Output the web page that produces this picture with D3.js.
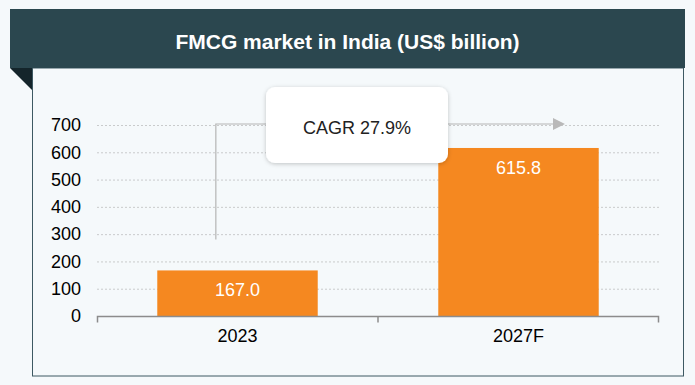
<!DOCTYPE html>
<html>
<head>
<meta charset="utf-8">
<script src="https://cdn.jsdelivr.net/npm/d3@7"></script>
<style>
  body { margin: 0; background: #f5f9fb; }
  svg { display: block; font-family: "Liberation Sans", Arial, sans-serif; }
</style>
</head>
<body>
<div id="chart"></div>
<script>
// data
var categories = ["2023", "2027F"];
var values = [167.0, 615.8];
var yTicks = [0, 100, 200, 300, 400, 500, 600, 700];
var titleText = "FMCG market in India (US$ billion)";
var cagrText = "CAGR 27.9%";

var width = 695, height = 385;

var svg = d3.select("#chart").append("svg")
    .attr("width", width)
    .attr("height", height);

// schaduw voor het cagr label
var defs = svg.append("defs");
defs.append("filter")
    .attr("id", "shadow")
    .attr("x", "-10%").attr("y", "-10%")
    .attr("width", "120%").attr("height", "130%")
  .append("feDropShadow")
    .attr("dx", 0).attr("dy", 1)
    .attr("stdDeviation", 2)
    .attr("flood-color", "#000")
    .attr("flood-opacity", 0.22);

// kader en kop
svg.append("rect")
    .attr("x", 32.5).attr("y", 68)
    .attr("width", 651).attr("height", 308)
    .attr("fill", "#f5f9fb")
    .attr("stroke", "#3d5962")
    .attr("stroke-width", 1);

svg.append("rect")
    .attr("x", 10).attr("y", 9)
    .attr("width", 675).attr("height", 59)
    .attr("fill", "#2b474f");

svg.append("path")
    .attr("d", "M10,68 L32,68 L32,90 Z")
    .attr("fill", "#14252b");

svg.append("text")
    .attr("x", 347.5).attr("y", 41)
    .attr("text-anchor", "middle")
    .attr("dominant-baseline", "central")
    .attr("fill", "#fff")
    .attr("font-weight", "bold")
    .attr("font-size", "21px")
    .text(titleText);

// schalen
var x = d3.scaleBand()
    .domain(categories)
    .range([97, 659])
    .paddingInner(0.429)
    .paddingOuter(0.2145);

var y = d3.scaleLinear()
    .domain([0, 700])
    .range([316, 125]);

// gridlijnen
svg.append("g")
    .selectAll("line")
    .data(yTicks.filter(function(d) { return d > 0; }))
    .enter().append("line")
    .attr("x1", 97).attr("x2", 659)
    .attr("y1", function(d) { return y(d) + 0.5; })
    .attr("y2", function(d) { return y(d) + 0.5; })
    .attr("stroke", "#c9cbcc")
    .attr("stroke-width", 1)
    .attr("stroke-dasharray", "2,2");

// y as labels
var yAxis = svg.append("g")
    .attr("transform", "translate(81,0)")
    .call(d3.axisLeft(y).tickValues(yTicks).tickSize(0).tickPadding(0));
yAxis.select(".domain").remove();
yAxis.selectAll("text")
    .attr("font-size", "18px")
    .attr("font-family", "Liberation Sans, Arial, sans-serif")
    .attr("fill", "#000");

// staven
svg.append("g")
    .selectAll("rect")
    .data(values)
    .enter().append("rect")
    .attr("x", function(d, i) { return x(categories[i]); })
    .attr("width", x.bandwidth())
    .attr("y", function(d) { return y(d); })
    .attr("height", function(d) { return y(0) - y(d); })
    .attr("fill", "#f58820");

svg.append("g")
    .selectAll("text")
    .data(values)
    .enter().append("text")
    .attr("x", function(d, i) { return x(categories[i]) + x.bandwidth() / 2; })
    .attr("y", function(d) { return y(d) + 20; })
    .attr("text-anchor", "middle")
    .attr("dominant-baseline", "central")
    .attr("fill", "#fff")
    .attr("font-size", "18px")
    .text(function(d) { return d.toFixed(1); });

// x as
var xAxis = svg.append("g")
    .attr("transform", "translate(0," + (y(0) + 0.5) + ")")
    .call(d3.axisBottom(x).tickSize(0).tickPadding(13));
xAxis.select(".domain")
    .attr("d", "M97.5,6V0H658.5V6")
    .attr("stroke", "#8c8c8c")
    .attr("stroke-width", 1.5);
xAxis.append("line")
    .attr("x1", 378).attr("x2", 378)
    .attr("y1", 0).attr("y2", 6)
    .attr("stroke", "#8c8c8c")
    .attr("stroke-width", 1.5);
xAxis.selectAll("text")
    .attr("font-size", "18px")
    .attr("font-family", "Liberation Sans, Arial, sans-serif")
    .attr("fill", "#000");

// cagr pijl
var ax = x(categories[0]) + x.bandwidth() * 0.365;
var ay = y(700) - 1;
var tipX = x(categories[1]) + x.bandwidth() * 0.79;
svg.append("path")
    .attr("d", "M" + ax + "," + y(280) + "V" + ay + "H" + (tipX - 11))
    .attr("fill", "none")
    .attr("stroke", "#b5b5b5")
    .attr("stroke-width", 1.2);
svg.append("path")
    .attr("d", "M" + (tipX - 12) + "," + (ay - 6) + "L" + tipX + "," + ay + "L" + (tipX - 12) + "," + (ay + 6) + "Z")
    .attr("fill", "#b9b9b9");

svg.append("rect")
    .attr("x", 266).attr("y", 87)
    .attr("width", 182).attr("height", 76)
    .attr("rx", 9)
    .attr("fill", "#fff")
    .attr("filter", "url(#shadow)");
svg.append("text")
    .attr("x", 357).attr("y", 128)
    .attr("text-anchor", "middle")
    .attr("dominant-baseline", "central")
    .attr("fill", "#222")
    .attr("font-size", "18px")
    .text(cagrText);
</script>
</body>
</html>
